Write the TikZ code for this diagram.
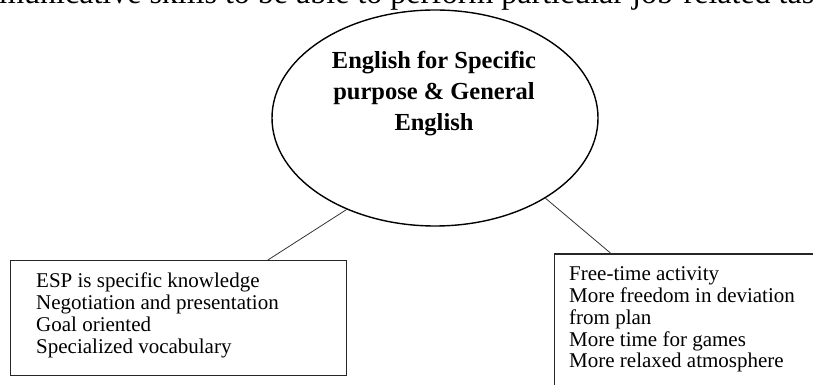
\documentclass[tikz,border=0pt]{standalone}
\usepackage{fontspec}
\setmainfont{Liberation Serif}
\usetikzlibrary{shapes.geometric,calc}
\begin{document}
\begin{tikzpicture}[x=1pt,y=1pt,
  boxframe/.style={draw=black!85, line width=1.1pt, inner sep=0pt, fill=none},
  listtext/.style={align=left, inner sep=0pt, anchor=base west,
    font=\fontsize{21}{21.7}\selectfont},
  titletext/.style={align=center, inner sep=0pt, anchor=base,
    font=\fontsize{24.5}{31}\selectfont\bfseries},
  link/.style={draw=black!80, line width=0.8pt}]
\clip (0,0) rectangle (813,385);
\useasboundingbox (0,0) rectangle (813,385);
% cut-off line of running text at the top
\node[inner sep=0pt, anchor=base west, font=\fontsize{32}{32}\selectfont] (toptext) at (-56,381)
  {communicative skills to be able to perform particular job-related tasks.};
% central ellipse
\node[draw, ellipse, line width=1.4pt, inner sep=0pt,
  minimum width=326pt, minimum height=216pt] (ell) at (435,267) {};
\node[titletext] (title) at (434,254) {English for Specific\\purpose \& General\\English};
% left box
\node[boxframe, anchor=north west, minimum width=336pt, minimum height=115pt] (lbox) at (10,125) {};
\node[listtext] (ltext) at (36,31.9) {ESP is specific knowledge\\Negotiation and presentation\\Goal oriented\\Specialized vocabulary};
% right box (runs off the page)
\node[boxframe, anchor=north west, minimum width=280pt, minimum height=160pt] (rbox) at (554,131.5) {};
\node[listtext] (rtext) at (569,17.2) {Free-time activity\\More freedom in deviation\\from plan\\More time for games\\More relaxed atmosphere};
% connectors
\draw[link] (ell.226) -- ($(lbox.north west)!0.765!(lbox.north east)$);
\draw[link] (ell.324) -- ([xshift=57pt]rbox.north west);
\end{tikzpicture}
\end{document}
